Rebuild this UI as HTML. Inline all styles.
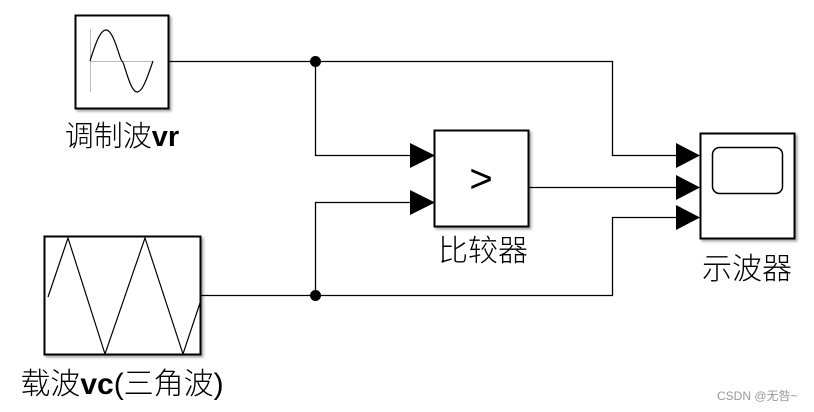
<!DOCTYPE html>
<html><head><meta charset="utf-8"><style>
body{margin:0;background:#fff;}
svg{display:block;}
text{font-family:"Liberation Sans","Noto Sans CJK SC",sans-serif;}
</style></head><body>
<svg width="814" height="412" viewBox="0 0 814 412">
<defs><filter id="sh" x="-10%" y="-10%" width="130%" height="130%"><feDropShadow dx="2" dy="2" stdDeviation="1.2" flood-color="#000" flood-opacity="0.35"/></filter></defs>
<rect x="75.5" y="15.5" width="93" height="93" fill="#fff" stroke="#000" stroke-width="2" filter="url(#sh)"/>
<line x1="90.5" y1="29" x2="90.5" y2="92" stroke="#bbb"/>
<line x1="90" y1="61.5" x2="153" y2="61.5" stroke="#bbb"/>
<path d="M90,61 C95,45 100,30 106,30 C114,30 120,61 122,61 C124,61 130,92 137,92 C143,92 148,75 153,61" fill="none" stroke="#000" stroke-width="1.2"/>
<text x="122" y="146" font-size="29" font-weight="300" text-anchor="middle">调制波<tspan font-weight="bold">vr</tspan></text>

<rect x="44.5" y="236.5" width="156" height="118" fill="#fff" stroke="#000" stroke-width="2" filter="url(#sh)"/>
<polyline points="48,297 68,238 105,354 145,238 183,354 200,303" fill="none" stroke="#000" stroke-width="1.2"/>
<text x="122" y="394" font-size="30" font-weight="300" text-anchor="middle">载波<tspan font-weight="bold">vc</tspan>(三角波)</text>

<rect x="434.5" y="130.5" width="94" height="96" fill="#fff" stroke="#000" stroke-width="2" filter="url(#sh)"/>
<text x="481" y="192" font-size="40" text-anchor="middle">&gt;</text>
<text x="483" y="261" font-size="30" font-weight="300" text-anchor="middle">比较器</text>

<rect x="700.5" y="133.5" width="94" height="105" fill="#fff" stroke="#000" stroke-width="2" filter="url(#sh)"/>
<rect x="712.5" y="147.5" width="70" height="46" rx="7" fill="none" stroke="#000" stroke-width="1.5"/>
<text x="747" y="279" font-size="30" font-weight="300" text-anchor="middle">示波器</text>

<g fill="none" stroke="#000" stroke-width="1.3">
<polyline points="169,61.5 612.5,61.5 612.5,155.5 680,155.5"/>
<polyline points="315.5,61.5 315.5,155.5 414,155.5"/>
<polyline points="201,295.5 612.5,295.5 612.5,217.5 680,217.5"/>
<polyline points="315.5,295.5 315.5,202.5 414,202.5"/>
<line x1="529" y1="187.5" x2="680" y2="187.5"/>
</g>
<circle cx="315.5" cy="61.5" r="5.5"/>
<circle cx="315.5" cy="295.5" r="5.5"/>
<polygon points="410,143 435,155.5 410,168"/>
<polygon points="410,190 435,202.5 410,215"/>
<polygon points="676,143 700,155.5 676,168"/>
<polygon points="676,175 700,187.5 676,200"/>
<polygon points="676,205 700,217.5 676,230"/>
<text x="717" y="400" font-size="12" fill="#999">CSDN @无咎~</text>
</svg>
</body></html>
